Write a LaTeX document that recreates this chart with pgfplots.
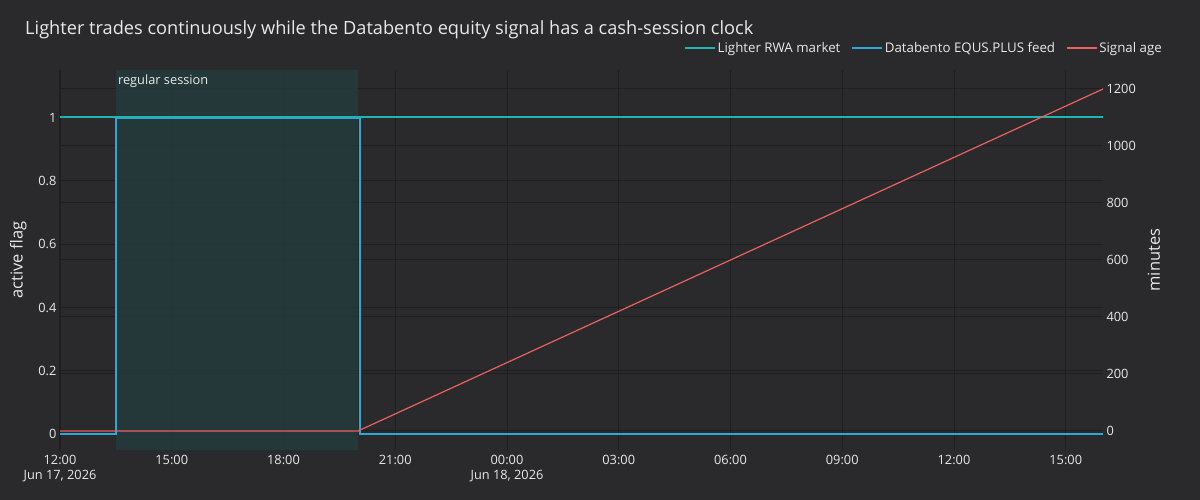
\documentclass[border=0pt]{standalone}
\usepackage{fontspec}
\setmainfont{Open Sans}
\usepackage{pgfplots}
\pgfplotsset{compat=1.18}
\definecolor{bg}{HTML}{2A2A2D}
\definecolor{gridc}{HTML}{1F1F21}
\definecolor{sessc}{HTML}{243A3C}
\definecolor{txt}{HTML}{E8E8E8}
\definecolor{rwacol}{RGB}{33,181,178}
\definecolor{feedc}{HTML}{2CA8D6}
\definecolor{agec}{HTML}{E8625F}
\begin{document}
\begin{tikzpicture}
\fill[bg] (0pt,0pt) rectangle (1200pt,500pt);
\path[use as bounding box] (0pt,0pt) rectangle (1200pt,500pt);
\node[anchor=base west, text=txt, font=\fontsize{18.2}{20}\selectfont, inner sep=0pt] at (25pt,465pt) {Lighter trades continuously while the Databento equity signal has a cash-session clock};
\begin{axis}[
  at={(60pt,50pt)}, anchor=south west,
  width=1043pt, height=380pt, scale only axis,
  xmin=0, xmax=28, ymin=-0.05, ymax=1.15,
  axis line style={draw=none},
  tick style={draw=none},
  /pgf/number format/assume math mode=true,
  xtick={0,3,...,27},
  xticklabels={{12:00\\Jun 17, 2026},15:00,18:00,21:00,{00:00\\Jun 18, 2026},03:00,06:00,09:00,12:00,15:00},
  xticklabel style={align=center, text=txt, font=\fontsize{12.8}{15}\selectfont, yshift=-2pt},
  ytick={0,0.2,0.4,0.6,0.8,1},
  yticklabels={0,0.2,0.4,0.6,0.8,1},
  yticklabel style={text=txt, font=\fontsize{12.8}{15}\selectfont},
  extra y ticks={0.01,0.19,0.37,0.55,0.73,0.91,1.09},
  extra y tick labels={},
  extra tick style={grid=major, major grid style={gridc, line width=1pt}},
  grid=major, major grid style={gridc, line width=1pt},
  ylabel={active flag}, ylabel style={text=txt, font=\fontsize{16.5}{18}\selectfont},
  ylabel shift=5pt,
  clip=false,
]
\fill[sessc, opacity=0.85] (axis cs:1.5,-0.05) rectangle (axis cs:8,1.15);
\node[anchor=north west, text=txt, font=\fontsize{12.8}{15}\selectfont, inner sep=2pt, yshift=-3pt] at (axis cs:1.5,1.15) {regular session};
\addplot[color=feedc, line width=1.5pt] coordinates {(0,0) (1.5,0) (1.5,0.998) (8.05,0.998) (8.05,0) (28,0)};
\end{axis}
\begin{axis}[
  at={(60pt,50pt)}, anchor=south west,
  width=1043pt, height=380pt, scale only axis,
  xmin=0, xmax=28, ymin=-66.67, ymax=1266.67,
  axis x line=none,
  axis y line*=right,
  axis line style={draw=none},
  tick style={draw=none},
  /pgf/number format/assume math mode=true,
  /pgf/number format/1000 sep={},
  ytick={0,200,...,1200},
  yticklabel style={text=txt, font=\fontsize{12.8}{15}\selectfont},
  ylabel={minutes}, ylabel style={text=txt, font=\fontsize{16.5}{18}\selectfont},
  ylabel shift=5pt,
  legend style={at={(1,1)}, anchor=south east, yshift=12pt, xshift=64pt, fill=none, draw=none, text=txt, font=\fontsize{13.3}{15}\selectfont, legend columns=3, /tikz/every even column/.append style={column sep=9pt}},
  legend image code/.code={\draw[#1] (0pt,0pt) -- (30pt,0pt);},
]
\addplot[color=rwacol, line width=1.8pt] coordinates {(0,1101) (28,1101)};
\addlegendentry{Lighter RWA market}
\addlegendimage{color=feedc, line width=1.5pt}
\addlegendentry{Databento EQUS.PLUS feed}
\addplot[color=agec, line width=1.2pt] coordinates {(0,0) (8,0) (28,1200)};
\addlegendentry{Signal age}
\end{axis}
\end{tikzpicture}
\end{document}
